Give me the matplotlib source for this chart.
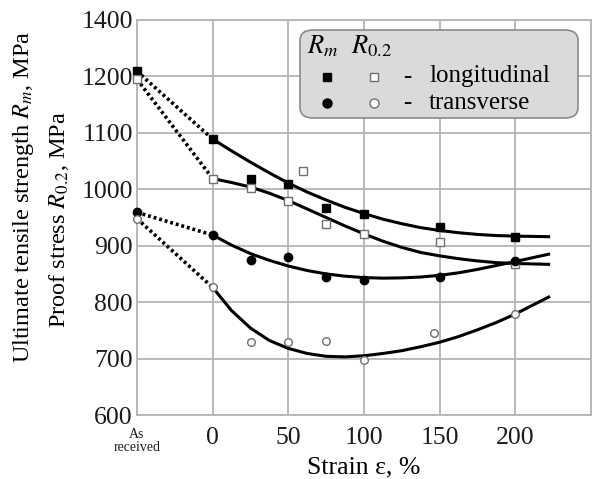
import matplotlib
matplotlib.use("Agg")
import matplotlib.pyplot as plt
from matplotlib.patches import FancyBboxPatch
from matplotlib.lines import Line2D

plt.rcParams['font.family'] = ['Liberation Serif', 'DejaVu Serif']
plt.rcParams['mathtext.fontset'] = 'stix'

# Measured points (x = -50 stands for "As received")
x_pts = [-50, 0, 25, 50, 75, 100, 150, 200]
rm_long = [1209, 1089, 1019, 1009, 966, 956, 934, 916]
r02_long = [1195, 1019, 1003, 980, 939, 921, 906, 867]
rm_trans = [959, 919, 875, 880, 844, 839, 845, 873]
r02_trans_x = [-50, 0, 25, 50, 75, 100, 146, 200]
r02_trans = [948, 826, 729, 729, 731, 697, 746, 779]
# extra open square (longitudinal proof stress)
r02_long_extra_x = [60]
r02_long_extra = [1032]

# Fitted trend curves
curve_x = [0, 12.5, 25, 37.5, 50, 62.5, 75, 87.5, 100, 112.5, 125, 137.5, 150,
           162.5, 175, 187.5, 200, 222]
curve_rm_long = [1089, 1068, 1048, 1029, 1011, 995, 981, 968, 957, 947, 939, 932, 927,
                 923, 920, 918, 917, 916]
curve_r02_long = [1019, 1012, 1004, 993, 980, 965, 950, 935, 921, 908, 897, 888, 882,
                  877, 873, 870, 868.5, 867]
curve_rm_trans = [919, 901, 886, 874, 864, 856, 850, 846, 843.5, 842.5, 843, 844.5, 847.5,
                  852, 858, 865, 872, 885]
curve_r02_trans = [826, 785, 754, 732, 718, 709, 704, 703, 705, 709, 714, 721, 729,
                   739, 751, 764, 779, 809]

x_ticks = [-50, 0, 50, 100, 150, 200]
x_labels = ["As\nreceived", "0", "50", "100", "150", "200"]
y_ticks = [600, 700, 800, 900, 1000, 1100, 1200, 1300]
y_labels = ["600", "700", "800", "900", "1000", "1100", "1200", "1400"]

fig = plt.figure(figsize=(5.93, 4.79), dpi=100)
ax = fig.add_axes([137 / 593, 1 - 415 / 479, 454 / 593, 395 / 479])

grid_col = "#b4b4b4"
ax.set_xlim(-50, 250)
ax.set_ylim(600, 1300)
ax.set_xticks(x_ticks + [250])
ax.set_xticklabels(x_labels + [""])
ax.set_yticks(y_ticks)
ax.set_yticklabels(y_labels)
ax.grid(True, color=grid_col, lw=1.3)
ax.set_axisbelow(True)
for s in ax.spines.values():
    s.set_color(grid_col)
    s.set_linewidth(1.3)
ax.tick_params(length=0, labelsize=18.5, colors="#1a1a1a")
ax.tick_params(axis="y", pad=3)
ax.tick_params(axis="x", pad=9)
xl = ax.get_xticklabels()[0]
xl.set_fontsize(10)
xl.set_linespacing(1.05)

# dotted links from "As received" to 0 %
for ys in [rm_long, r02_long, rm_trans]:
    ax.plot(x_pts[:2], ys[:2], color="black", lw=2.6, ls=(0, (0.8, 0.8)), zorder=2)
ax.plot(r02_trans_x[:2], r02_trans[:2], color="black", lw=2.6, ls=(0, (0.8, 0.8)), zorder=2)

# trend curves
for cy in [curve_rm_long, curve_r02_long, curve_rm_trans, curve_r02_trans]:
    ax.plot(curve_x, cy, color="black", lw=2.2, zorder=3, solid_joinstyle="round")

# markers
ax.plot(x_pts, rm_long, ls="none", marker="s", ms=5.2, mfc="black", mec="black", zorder=4, clip_on=False)
ax.plot(x_pts + r02_long_extra_x, r02_long + r02_long_extra, ls="none", marker="s", ms=5.2,
        mfc="white", mec="#6f6f6f", mew=1, zorder=4, clip_on=False)
ax.plot(x_pts, rm_trans, ls="none", marker="o", ms=6, mfc="black", mec="black", zorder=4, clip_on=False)
ax.plot(r02_trans_x, r02_trans, ls="none", marker="o", ms=5.5, mfc="white", mec="#6f6f6f",
        mew=1, zorder=4, clip_on=False)

# custom legend box
def fx(px):
    return px / 593

def fy(py):
    return 1 - py / 479

box = FancyBboxPatch((fx(300), fy(118)), fx(578) - fx(300), fy(30) - fy(118),
                     boxstyle="round,pad=0,rounding_size=0.022", transform=fig.transFigure,
                     facecolor="#dadada", edgecolor="#8a8a8a", lw=1.2, zorder=5)
fig.patches.append(box)
fig.text(fx(307), fy(53), r"$R_m$", fontsize=19, va="baseline", zorder=6)
fig.text(fx(351), fy(53), r"$R_{\mathit{0.2}}$", fontsize=19, va="baseline", zorder=6)
for py, mk, ms in [(77, "s", 5.5), (103, "o", 6.5)]:
    fig.lines.append(Line2D([fx(327)], [fy(py)], transform=fig.transFigure, marker=mk, ms=ms,
                            mfc="black", mec="black", ls="none", zorder=6))
    fig.lines.append(Line2D([fx(374)], [fy(py)], transform=fig.transFigure, marker=mk, ms=ms,
                            mfc="white", mec="#6f6f6f", mew=1, ls="none", zorder=6))
    fig.text(fx(407), fy(py), "-", fontsize=18, ha="center", va="center", zorder=6)
fig.text(fx(429), fy(76), "longitudinal", fontsize=18, va="center", zorder=6)
fig.text(fx(429), fy(103), "transverse", fontsize=18, va="center", zorder=6)

# axis titles
fig.text(fx(24), fy(197), r"Ultimate tensile strength $R_m$, MPa", rotation=90,
         fontsize=17.5, ha="center", va="center")
fig.text(fx(59), fy(220), r"Proof stress $R_{\mathit{0.2}}$, MPa", rotation=90,
         fontsize=17.5, ha="center", va="center")
fig.text(fx(364), fy(467), "Strain ε, %", fontsize=18.5, ha="center", va="center")

fig.savefig("out.png", dpi=100)
